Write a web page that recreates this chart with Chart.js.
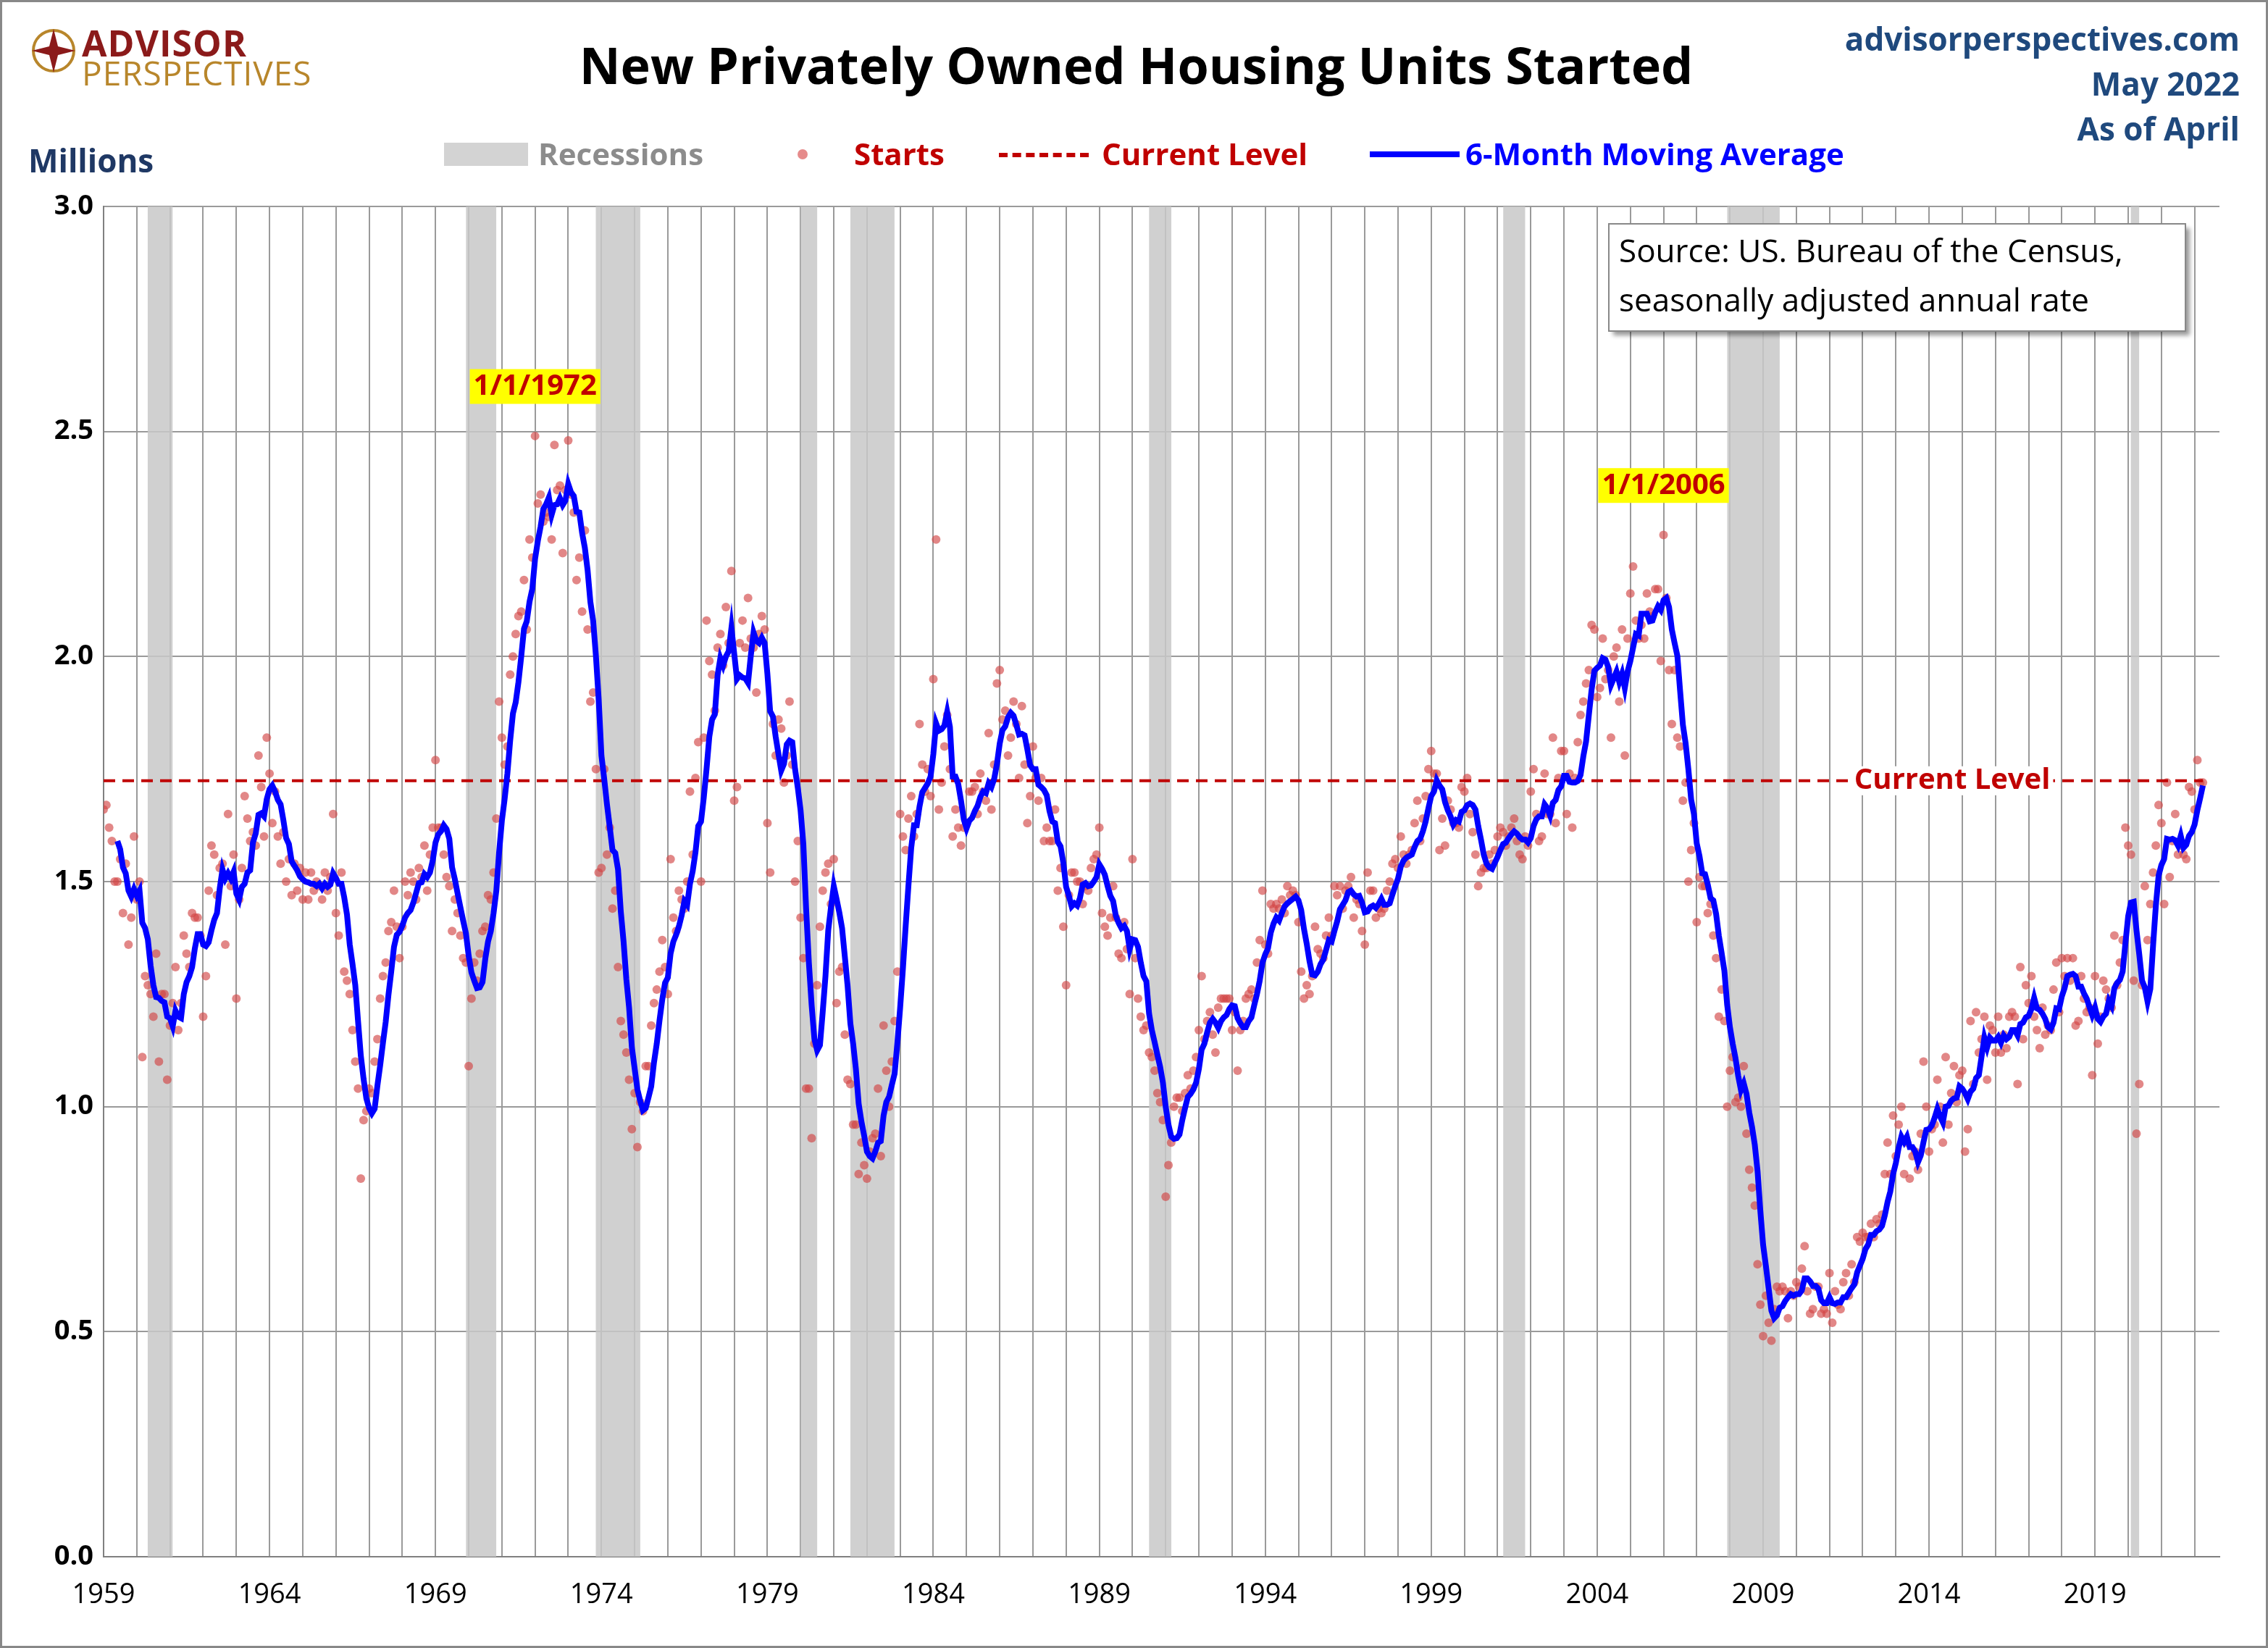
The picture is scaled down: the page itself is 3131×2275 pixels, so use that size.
<!DOCTYPE html>
<html>
<head>
<meta charset="utf-8">
<script src="https://cdn.jsdelivr.net/npm/chart.js@4/dist/chart.umd.min.js"></script>
<style>
  body { margin: 0; background: #fff; font-family: "Open Sans", sans-serif; }
  #wrap { position: relative; width: 3131px; height: 2275px; box-sizing: border-box; border: 3px solid #888; }
  canvas { position: absolute; left: 0; top: 0; }
  .t { position: absolute; font-weight: bold; white-space: nowrap; }
  #title { left: 0; width: 3131px; text-align: center; top: 38px; font-size: 70px; color: #000; }
  #millions { left: 36px; top: 188px; font-size: 44px; color: #1f3864; }
  .right { right: 36px; font-size: 44px; color: #1f497d; text-align: right; }
  .leg { top: 180px; font-size: 42px; }
  #logo1 { left: 110px; top: 22px; font-size: 50px; color: #8b1a1a; letter-spacing: 1px; }
  #logo2 { left: 110px; top: 66px; font-size: 46px; color: #b8862b; font-weight: normal; letter-spacing: 1px; }
</style>
</head>
<body>
<div id="wrap">
  <canvas id="housingChart" width="3131" height="2275"></canvas>
  <svg style="position:absolute;left:38px;top:34px" width="66" height="66" viewBox="-33 -33 66 66">
    <circle r="28" fill="none" stroke="#b8862b" stroke-width="4"/>
    <polygon points="0,-30 6,-6 30,0 6,6 0,30 -6,6 -30,0 -6,-6" fill="#8b1a1a"/>
  </svg>
  <div class="t" id="logo1">ADVISOR</div>
  <div class="t" id="logo2">PERSPECTIVES</div>
  <div class="t" id="title">New Privately Owned Housing Units Started</div>
  <div class="t" id="millions">Millions</div>
  <div class="t right" style="top:20px">advisorperspectives.com</div>
  <div class="t right" style="top:82px">May 2022</div>
  <div class="t right" style="top:144px">As of April</div>

  <div style="position:absolute;left:610px;top:194px;width:116px;height:32px;background:#d3d3d3"></div>
  <div class="t leg" style="left:740px;color:#8c8c8c">Recessions</div>
  <div style="position:absolute;left:1098px;top:203px;width:14px;height:14px;border-radius:7px;background:rgba(220,90,90,0.7)"></div>
  <div class="t leg" style="left:1176px;color:#c00000">Starts</div>
  <div style="position:absolute;left:1376px;top:208px;width:124px;border-top:6px dashed #c00000"></div>
  <div class="t leg" style="left:1518px;color:#c00000">Current Level</div>
  <div style="position:absolute;left:1888px;top:206px;width:124px;height:8px;background:#0000ff"></div>
  <div class="t leg" style="left:2020px;color:#0000ff">6-Month Moving Average</div>
</div>
<script>
// monthly starts, millions, Jan 1959 .. Apr 2022
const startsByYear = [
  [1.66,1.67,1.62,1.59,1.50,1.50,1.55,1.43,1.54,1.36,1.42,1.60],
  [1.46,1.50,1.11,1.29,1.27,1.25,1.20,1.34,1.10,1.25,1.25,1.06],
  [1.18,1.23,1.31,1.17,1.23,1.38,1.34,1.31,1.43,1.42,1.42,1.38],
  [1.20,1.29,1.48,1.58,1.56,1.47,1.53,1.54,1.36,1.65,1.49,1.56],
  [1.24,1.46,1.53,1.69,1.64,1.59,1.61,1.58,1.78,1.71,1.60,1.82],
  [1.74,1.63,1.70,1.60,1.54,1.61,1.50,1.55,1.47,1.54,1.48,1.53],
  [1.46,1.52,1.46,1.52,1.48,1.50,1.49,1.46,1.52,1.48,1.51,1.65],
  [1.43,1.38,1.52,1.30,1.28,1.25,1.17,1.10,1.04,0.84,0.97,0.99],
  [1.04,1.03,1.10,1.15,1.24,1.29,1.32,1.39,1.41,1.48,1.40,1.33],
  [1.40,1.50,1.47,1.52,1.50,1.46,1.53,1.51,1.58,1.48,1.56,1.62],
  [1.77,1.62,1.62,1.56,1.51,1.49,1.39,1.46,1.43,1.38,1.33,1.32],
  [1.09,1.24,1.32,1.28,1.34,1.39,1.40,1.47,1.46,1.52,1.64,1.90],
  [1.82,1.76,1.80,1.96,2.00,2.05,2.09,2.10,2.17,2.06,2.26,2.22],
  [2.49,2.34,2.36,2.30,2.32,2.31,2.26,2.47,2.37,2.38,2.23,2.37],
  [2.48,2.36,2.32,2.17,2.22,2.10,2.28,2.06,1.90,1.92,1.75,1.52],
  [1.53,1.75,1.56,1.62,1.44,1.48,1.31,1.19,1.16,1.12,1.06,0.95],
  [1.03,0.91,1.01,0.99,1.09,1.09,1.18,1.23,1.26,1.30,1.37,1.31],
  [1.25,1.55,1.42,1.39,1.48,1.46,1.44,1.50,1.70,1.56,1.73,1.81],
  [1.50,1.82,2.08,1.99,1.96,1.88,2.02,2.05,1.98,2.11,2.03,2.19],
  [1.68,1.71,2.03,2.08,2.02,2.13,2.04,2.02,1.92,2.05,2.09,2.06],
  [1.63,1.52,1.85,1.78,1.86,1.84,1.72,1.78,1.90,1.76,1.50,1.59],
  [1.42,1.33,1.04,1.04,0.93,1.14,1.27,1.40,1.48,1.52,1.54,1.45],
  [1.55,1.23,1.30,1.31,1.16,1.06,1.05,0.96,0.96,0.85,0.92,0.87],
  [0.84,0.90,0.93,0.94,1.04,0.89,1.18,1.08,1.00,1.10,1.19,1.30],
  [1.65,1.60,1.57,1.64,1.69,1.60,1.65,1.85,1.76,1.70,1.75,1.69],
  [1.95,2.26,1.66,1.72,1.80,1.87,1.75,1.60,1.66,1.62,1.58,1.62],
  [1.63,1.70,1.70,1.71,1.65,1.74,1.70,1.68,1.83,1.66,1.76,1.94],
  [1.97,1.86,1.88,1.78,1.82,1.90,1.85,1.73,1.89,1.76,1.63,1.69],
  [1.80,1.73,1.68,1.73,1.59,1.62,1.59,1.59,1.66,1.48,1.53,1.40],
  [1.27,1.47,1.52,1.52,1.50,1.50,1.45,1.49,1.48,1.53,1.55,1.56],
  [1.62,1.43,1.40,1.38,1.42,1.49,1.42,1.34,1.33,1.41,1.35,1.25],
  [1.55,1.33,1.24,1.20,1.17,1.18,1.12,1.11,1.08,1.03,1.01,0.97],
  [0.80,0.87,0.92,1.00,1.02,1.02,0.99,1.03,1.07,1.04,1.08,1.11],
  [1.17,1.29,1.15,1.19,1.21,1.16,1.12,1.22,1.24,1.24,1.24,1.24],
  [1.17,1.21,1.08,1.17,1.19,1.24,1.25,1.26,1.24,1.32,1.37,1.48],
  [1.36,1.34,1.45,1.44,1.45,1.44,1.46,1.43,1.49,1.47,1.48,1.47],
  [1.41,1.30,1.24,1.27,1.25,1.29,1.40,1.35,1.34,1.33,1.38,1.42],
  [1.38,1.49,1.47,1.49,1.44,1.48,1.49,1.51,1.42,1.46,1.45,1.39],
  [1.36,1.52,1.48,1.48,1.42,1.44,1.43,1.44,1.48,1.50,1.54,1.55],
  [1.53,1.60,1.56,1.54,1.56,1.57,1.63,1.68,1.59,1.64,1.69,1.75],
  [1.79,1.74,1.74,1.57,1.64,1.58,1.68,1.66,1.63,1.63,1.62,1.71],
  [1.70,1.73,1.65,1.61,1.56,1.49,1.52,1.53,1.53,1.56,1.54,1.57],
  [1.60,1.62,1.61,1.58,1.60,1.62,1.64,1.59,1.56,1.55,1.60,1.58],
  [1.70,1.75,1.65,1.59,1.60,1.74,1.65,1.65,1.82,1.63,1.73,1.79],
  [1.79,1.65,1.74,1.62,1.73,1.81,1.87,1.90,1.94,1.97,2.07,2.06],
  [1.91,1.93,2.04,1.95,1.97,1.82,2.00,2.02,1.90,2.06,1.78,2.04],
  [2.14,2.20,2.08,2.04,2.07,2.04,2.14,2.10,2.09,2.15,2.15,1.99],
  [2.27,2.13,1.97,1.85,1.97,1.82,1.80,1.68,1.72,1.50,1.57,1.63],
  [1.41,1.51,1.49,1.49,1.43,1.45,1.38,1.33,1.20,1.26,1.19,1.00],
  [1.08,1.11,1.01,1.02,1.00,1.09,0.94,0.86,0.82,0.78,0.65,0.56],
  [0.49,0.58,0.52,0.48,0.55,0.60,0.59,0.60,0.59,0.53,0.59,0.58],
  [0.61,0.60,0.64,0.69,0.59,0.54,0.55,0.60,0.60,0.54,0.55,0.54],
  [0.63,0.52,0.59,0.56,0.55,0.61,0.63,0.58,0.65,0.61,0.71,0.70],
  [0.72,0.71,0.71,0.74,0.71,0.75,0.74,0.76,0.85,0.92,0.85,0.98],
  [0.89,0.96,1.00,0.85,0.92,0.84,0.89,0.90,0.86,0.94,1.10,1.00],
  [0.90,0.95,0.96,1.06,1.00,0.92,1.11,0.96,1.03,1.09,1.01,1.07],
  [1.08,0.90,0.95,1.19,1.05,1.21,1.12,1.15,1.20,1.06,1.18,1.17],
  [1.12,1.20,1.12,1.16,1.13,1.20,1.21,1.20,1.05,1.31,1.15,1.27],
  [1.23,1.29,1.20,1.17,1.13,1.22,1.16,1.18,1.17,1.26,1.32,1.21],
  [1.33,1.29,1.33,1.28,1.33,1.18,1.19,1.29,1.24,1.21,1.22,1.07],
  [1.29,1.14,1.20,1.28,1.26,1.24,1.22,1.38,1.27,1.32,1.37,1.62],
  [1.58,1.56,1.28,0.94,1.05,1.27,1.49,1.37,1.45,1.52,1.58,1.67],
  [1.63,1.45,1.72,1.51,1.59,1.65,1.56,1.58,1.56,1.55,1.71,1.70],
  [1.66,1.77,1.72,1.72]
];
const firstYear = 1959;
const currentLevel = 1.724;
const recessions = [[1960.33,1961.08],[1969.92,1970.83],[1973.83,1975.17],[1980.0,1980.5],
  [1981.5,1982.83],[1990.5,1991.17],[2001.17,2001.83],[2007.92,2009.5],[2020.08,2020.33]];
const yearTicks = [1959,1964,1969,1974,1979,1984,1989,1994,1999,2004,2009,2014,2019];
const peaks = [[1972, "1/1/1972", 2.60], [2006, "1/1/2006", 2.38]];

const starts = startsByYear.flat().map((v, i) => ({ x: firstYear + i / 12, y: v }));
const movingAvg = [];
for (let i = 5; i < starts.length; i++) {
  let s = 0;
  for (let k = i - 5; k <= i; k++) s += starts[k].y;
  movingAvg.push({ x: starts[i].x, y: s / 6 });
}
const lastX = starts[starts.length - 1].x;

const FONT = "'Open Sans', sans-serif";

const extras = {
  id: "extras",
  beforeDatasetsDraw(chart) {
    const { ctx, chartArea: a, scales: { x } } = chart;
    ctx.save();
    ctx.fillStyle = "rgba(200,200,200,0.85)";
    recessions.forEach(([s, e]) => {
      const x0 = x.getPixelForValue(s), x1 = x.getPixelForValue(e);
      ctx.fillRect(x0, a.top, x1 - x0, a.bottom - a.top);
    });
    ctx.restore();
  },
  afterDatasetsDraw(chart) {
    const { ctx, scales: { x, y } } = chart;
    ctx.save();
    ctx.font = "bold 40px " + FONT;
    ctx.textAlign = "center";
    ctx.textBaseline = "middle";
    peaks.forEach(([px, label, py]) => {
      const cx = x.getPixelForValue(px), cy = y.getPixelForValue(py);
      const w = ctx.measureText(label).width + 10;
      ctx.fillStyle = "#ffff00";
      ctx.fillRect(cx - w / 2, cy - 24, w, 48);
      ctx.fillStyle = "#c00000";
      ctx.fillText(label, cx, cy);
    });
    const ly = y.getPixelForValue(currentLevel);
    const lx = x.getPixelForValue(2014.7);
    const lw = ctx.measureText("Current Level").width;
    ctx.fillStyle = "#fff";
    ctx.fillRect(lx - lw / 2 - 4, ly - 20, lw + 8, 40);
    ctx.fillStyle = "#c00000";
    ctx.fillText("Current Level", lx, ly);
    // source box
    ctx.shadowColor = "rgba(0,0,0,0.4)";
    ctx.shadowOffsetX = 6; ctx.shadowOffsetY = 6; ctx.shadowBlur = 6;
    ctx.fillStyle = "#fff";
    ctx.fillRect(2218, 306, 796, 148);
    ctx.shadowColor = "transparent";
    ctx.strokeStyle = "#888"; ctx.lineWidth = 2;
    ctx.strokeRect(2218, 306, 796, 148);
    ctx.fillStyle = "#000";
    ctx.textAlign = "left";
    ctx.font = "44px " + FONT;
    ctx.fillText("Source: US. Bureau of the Census,", 2232, 346);
    ctx.fillText("seasonally adjusted annual rate", 2232, 414);
    ctx.restore();
  }
};

new Chart(document.getElementById("housingChart"), {
  type: "scatter",
  data: {
    datasets: [
      {
        label: "6-Month Moving Average",
        type: "line",
        data: movingAvg,
        borderColor: "#0000ff",
        borderWidth: 8,
        pointRadius: 0,
        tension: 0,
      },
      {
        label: "Current Level",
        type: "line",
        data: [{ x: 1959, y: currentLevel }, { x: lastX, y: currentLevel }],
        borderColor: "#c00000",
        borderWidth: 4,
        borderDash: [16, 10],
        pointRadius: 0,
      },
      {
        label: "Starts",
        data: starts,
        backgroundColor: "rgba(210,70,70,0.65)",
        borderWidth: 0,
        pointRadius: 6,
      },
    ],
  },
  options: {
    responsive: false,
    animation: false,
    devicePixelRatio: 1,
    layout: { padding: { top: 282, left: 10, right: 70, bottom: 49 } },
    plugins: { legend: { display: false }, tooltip: { enabled: false } },
    scales: {
      x: {
        type: "linear",
        min: 1959,
        max: 2022.75,
        afterBuildTicks(s) { s.ticks = []; for (let yr = 1959; yr <= 2022; yr++) s.ticks.push({ value: yr }); },
        afterFit(s) { s.height = 80; },
        ticks: {
          autoSkip: false,
          maxRotation: 0,
          padding: 30,
          color: "#000",
          font: { size: 38, family: FONT },
          callback: (v) => (yearTicks.includes(v) ? String(v) : ""),
        },
        grid: { color: "#9a9a9a", lineWidth: 2, drawTicks: false },
        border: { color: "#808080", width: 2 },
      },
      y: {
        min: 0,
        max: 3,
        afterFit(s) { s.width = 130; },
        ticks: { stepSize: 0.5, padding: 14, color: "#000", font: { size: 38, weight: "bold", family: FONT }, callback: (v) => v.toFixed(1) },
        grid: { color: "#9a9a9a", lineWidth: 2, drawTicks: false },
        border: { color: "#808080", width: 2 },
      },
    },
  },
  plugins: [extras],
});
</script>
</body>
</html>
